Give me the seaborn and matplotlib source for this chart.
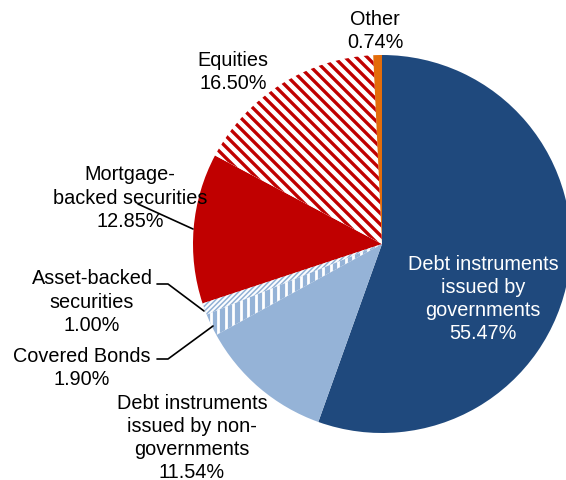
import matplotlib
matplotlib.use("Agg")
import matplotlib.pyplot as plt
import numpy as np
import seaborn as sns

# data (clockwise from 12 o'clock)
categories = ["Debt instruments\nissued by\ngovernments",
              "Debt instruments\nissued by non-\ngovernments",
              "Covered Bonds",
              "Asset-backed\nsecurities",
              "Mortgage-\nbacked securities",
              "Equities",
              "Other"]
shares = [55.47, 11.54, 1.90, 1.00, 12.85, 16.50, 0.74]

face_colors = ["#1F497D", "#95B3D7", "#95B3D7", "#95B3D7", "#C00000", "#FFFFFF", "#E36C0A"]

sns.set_theme(style="white")
plt.rcParams["font.family"] = ["Liberation Sans", "DejaVu Sans"]

W, H = 566, 481
fig = plt.figure(figsize=(W / 100, H / 100), dpi=100)
ax = fig.add_axes([0, 0, 1, 1])

cx, cy, r = 382, H - 245, 189
wedges, _ = ax.pie(shares, colors=face_colors, startangle=90, counterclock=False,
                   radius=r, center=(cx, cy), wedgeprops=dict(linewidth=0))


# striped fills, drawn as lines clipped to the wedge
def stripes(wedge, kind, step, color, lw):
    offs = np.arange(-2 * W, 2 * W, step)
    for c in offs:
        if kind == "|":
            xs, ys = [c, c], [0, H]
        elif kind == "\\":
            xs, ys = [c, c + H], [H, 0]
        else:
            xs, ys = [c, c + H], [0, H]
        ln, = ax.plot(xs, ys, color=color, linewidth=lw, solid_capstyle="butt")
        ln.set_clip_path(wedge)


stripes(wedges[2], "|", 7.5, "white", 2.0)
stripes(wedges[3], "/", 5, "white", 1.4)
stripes(wedges[5], "\\", 11, "#C00000", 2.4)

ax.set_xlim(0, W)
ax.set_ylim(0, H)
ax.set_aspect("equal")
ax.axis("off")

fs = 14.3
txt = dict(fontsize=fs, ha="center", va="center", linespacing=1.28)

# label positions in pixels from the top-left
ax.text(483, H - 299, f"{categories[0]}\n{shares[0]:.2f}%", color="white", **txt)
ax.text(192, H - 438, f"{categories[1]}\n{shares[1]:.2f}%", color="black", **txt)
ax.text(82, H - 368, f"{categories[2]}\n{shares[2]:.2f}%", color="black", **txt)
ax.text(92, H - 302, f"{categories[3]}\n{shares[3]:.2f}%", color="black", **txt)
ax.text(130, H - 198, f"{categories[4]}\n{shares[4]:.2f}%", color="black", **txt)
ax.text(233, H - 72, f"{categories[5]}\n{shares[5]:.2f}%", color="black", **txt)
ax.text(375, H - 31, f"{categories[6]}\n{shares[6]:.2f}%", color="black", **txt)

# leader lines
line = dict(color="black", linewidth=1.2)
ax.plot([138, 193], [H - 205, H - 230], **line)
ax.plot([157, 168, 204], [H - 285, H - 285, H - 312], **line)
ax.plot([157, 168, 213], [H - 360, H - 360, H - 327], **line)

fig.savefig("out.png", dpi=100)
